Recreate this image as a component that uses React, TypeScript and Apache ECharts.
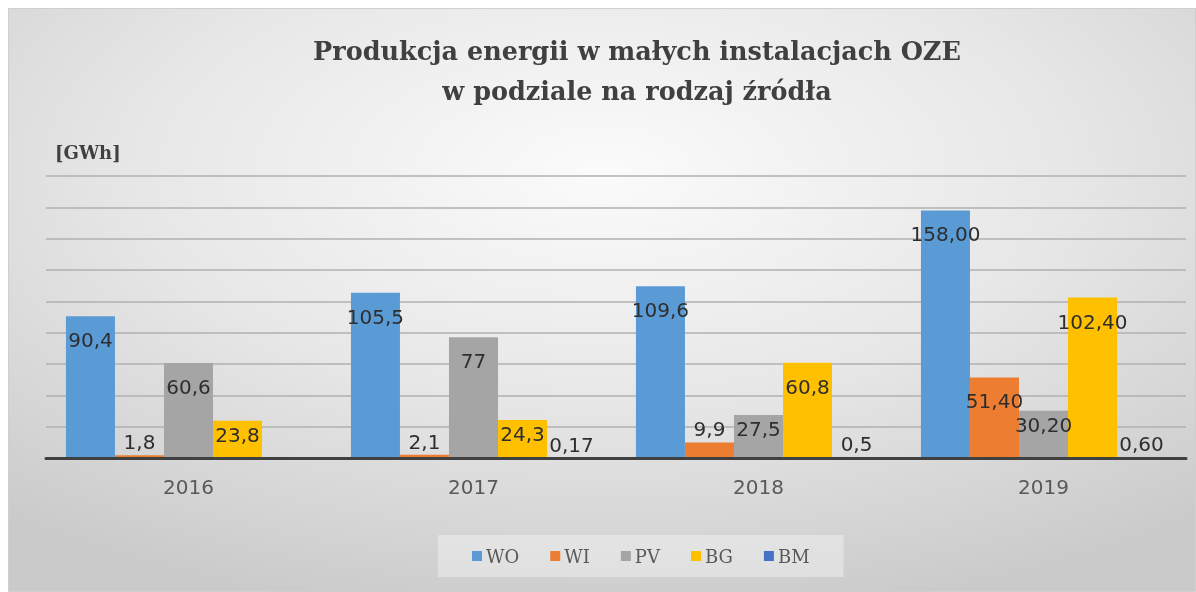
import React, { useEffect, useRef } from "react";
import * as echarts from "echarts";

// ---- data (values as printed in the chart, Polish decimal comma) ----
const years = ["2016", "2017", "2018", "2019"];
const seriesNames = ["WO", "WI", "PV", "BG", "BM"];
const woValues = ["90,4", "105,5", "109,6", "158,00"];
const wiValues = ["1,8", "2,1", "9,9", "51,40"];
const pvValues = ["60,6", "77", "27,5", "30,20"];
const bgValues = ["23,8", "24,3", "60,8", "102,40"];
const bmValues = ["", "0,17", "0,5", "0,60"];
const seriesColors = ["#5b9bd5", "#ed7d31", "#a5a5a5", "#ffc000", "#4472c4"];
const yMin = 0;
const yMax = 180;
const yInterval = 20;
const titleLines = ["Produkcja energii w małych instalacjach OZE", "w podziale na rodzaj źródła"];
const unitLabel = "[GWh]";

const allValues = [woValues, wiValues, pvValues, bgValues, bmValues];

const toNum = (s: string) => (s === "" ? null : parseFloat(s.replace(",", ".")));

function labelPlacement(v: number) {
  if (v < 15) return { position: "top", distance: 3 };
  if (v < 40) return { position: "insideTop", distance: 4 };
  return { position: "insideTop", distance: 14 };
}

export default function App() {
  const ref = useRef<HTMLDivElement>(null);

  useEffect(() => {
    if (!ref.current) return;
    const chart = echarts.init(ref.current, undefined, { renderer: "svg" });

    const series = seriesNames.map((name, si) => {
      const texts = allValues[si];
      return {
        name,
        type: "bar",
        barGap: "0%",
        barCategoryGap: "14%",
        itemStyle: { color: seriesColors[si] },
        label: {
          show: true,
          color: "#2e2e2e",
          fontFamily: "DejaVu Sans",
          fontSize: 20,
          lineHeight: 20,
          formatter: (p: any) => texts[p.dataIndex],
        },
        data: texts.map((t) => {
          const v = toNum(t);
          if (v === null) return { value: null };
          return { value: v, label: labelPlacement(v) };
        }),
      };
    });

    chart.setOption({
      animation: false,
      graphic: [
        {
          type: "rect",
          z: -10,
          silent: true,
          shape: { x: 0.5, y: 0.5, width: 1187, height: 583 },
          style: {
            fill: {
              type: "radial",
              x: 0.5,
              y: 0.28,
              r: 0.78,
              colorStops: [
                { offset: 0, color: "#fbfbfb" },
                { offset: 0.5, color: "#e7e7e7" },
                { offset: 1, color: "#cacaca" },
              ],
            },
            stroke: "#cfcfcf",
            lineWidth: 1,
          },
        },
        {
          type: "text",
          x: 629,
          y: 43,
          z: 10,
          style: {
            text: titleLines[0],
            fill: "#404040",
            font: "bold 25.5px 'DejaVu Serif'",
            textAlign: "center",
            textVerticalAlign: "middle",
          },
        },
        {
          type: "text",
          x: 629,
          y: 83,
          z: 10,
          style: {
            text: titleLines[1],
            fill: "#404040",
            font: "bold 25.5px 'DejaVu Serif'",
            textAlign: "center",
            textVerticalAlign: "middle",
          },
        },
        {
          type: "text",
          x: 47,
          y: 144,
          z: 10,
          style: {
            text: unitLabel,
            fill: "#404040",
            font: "bold 18px 'DejaVu Serif'",
            textAlign: "left",
            textVerticalAlign: "middle",
          },
        },
      ],
      legend: {
        data: seriesNames,
        left: 430,
        top: 527,
        padding: [12, 34],
        itemGap: 31,
        itemWidth: 10,
        itemHeight: 10,
        icon: "rect",
        backgroundColor: "rgba(255,255,255,0.35)",
        textStyle: { fontFamily: "DejaVu Serif", fontSize: 18, color: "#595959", padding: [0, 0, 0, -1] },
      },
      grid: { left: 38, right: 10, top: 168, bottom: 134, containLabel: false },
      xAxis: {
        type: "category",
        data: years,
        axisTick: { show: false },
        axisLine: { show: true, lineStyle: { color: "#404040", width: 3 } },
        axisLabel: { margin: 19, color: "#595959", fontFamily: "DejaVu Sans", fontSize: 20 },
        z: 5,
      },
      yAxis: {
        type: "value",
        min: yMin,
        max: yMax,
        interval: yInterval,
        axisLabel: { show: false },
        axisLine: { show: false },
        axisTick: { show: false },
        splitLine: { show: true, lineStyle: { color: "#b0b0b0", width: 1.5 } },
      },
      series,
    });

    return () => chart.dispose();
  }, []);

  return (
    <div
      ref={ref}
      style={{ position: "fixed", left: 8, top: 8, width: 1188, height: 584 }}
    />
  );
}
